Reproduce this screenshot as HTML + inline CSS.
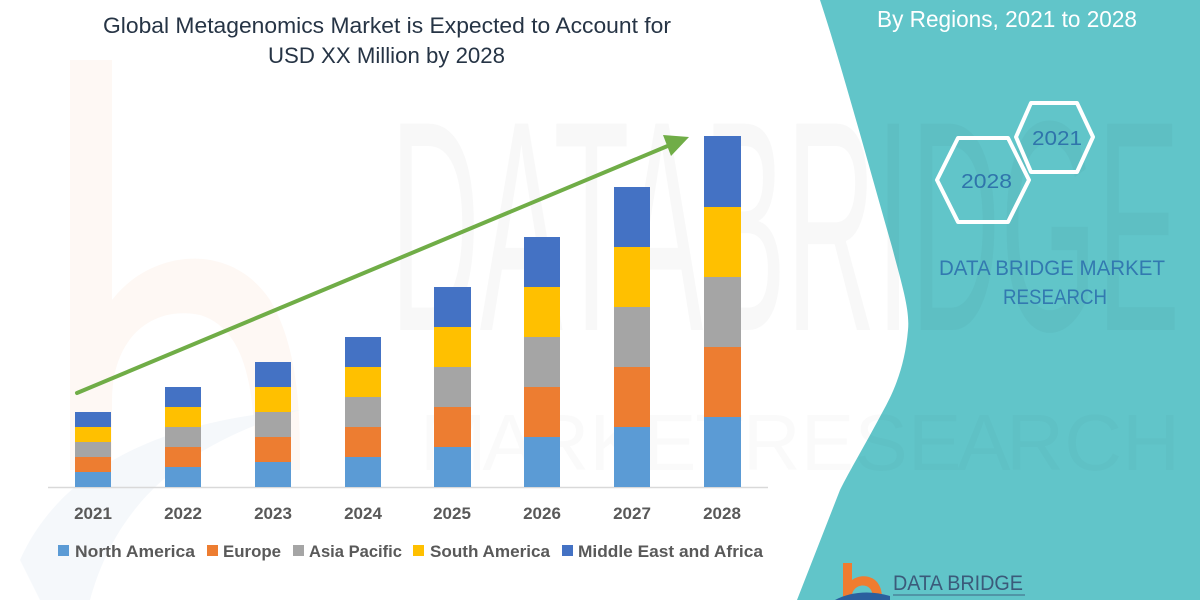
<!DOCTYPE html>
<html><head><meta charset="utf-8"><style>
html,body{margin:0;padding:0;background:#fff;}
svg{display:block;}
</style></head><body>
<svg width="1200" height="600" viewBox="0 0 1200 600" xmlns="http://www.w3.org/2000/svg" font-family="'Liberation Sans', sans-serif">
<rect width="1200" height="600" fill="#ffffff"/>
<!-- faint watermark b logo left -->
<path d="M70,60 L112,60 L112,300 C150,250 230,240 270,300 C300,350 300,420 300,470 L255,470 C255,400 250,330 200,315 C150,305 112,340 112,400 L112,470 L70,470 Z" fill="#fdf3ec" opacity="0.6"/>
<path d="M20,560 C60,470 160,420 300,410 C200,440 120,490 90,600 L40,600 Z" fill="#f1f5f9" opacity="0.7"/>
<!-- teal panel -->
<path d="M820,0 C840,60 870,170 892,247 C902,285 910,310 908,330 C905,365 895,390 882,413 C865,445 850,470 840,490 L797,600 L1200,600 L1200,0 Z" fill="#61c5c9"/>
<!-- watermark DATABRIDGE -->
<text x="390" y="330" font-size="300" textLength="790" lengthAdjust="spacingAndGlyphs" fill="#000" opacity="0.022">DATABRIDGE</text>
<text x="420" y="470" font-size="80" textLength="760" lengthAdjust="spacing" fill="#000" opacity="0.015">M A R K E T  R E S E A R C H</text>
<!-- title -->
<text x="103" y="33" font-size="22" fill="#263445" textLength="568" lengthAdjust="spacingAndGlyphs">Global Metagenomics Market is Expected to Account for</text>
<text x="268" y="63" font-size="22" fill="#263445" textLength="237" lengthAdjust="spacingAndGlyphs">USD XX Million by 2028</text>
<!-- right header -->
<text x="877" y="27" font-size="23" fill="#ffffff" textLength="260" lengthAdjust="spacingAndGlyphs">By Regions,  2021 to 2028</text>
<!-- hexagons -->
<polygon points="1016,137 1031,103 1077,103 1093,137 1077,172 1031,172" fill="none" stroke="#ffffff" stroke-width="4" stroke-linejoin="round"/>
<polygon points="937,180 958,138 1008,138 1029,180 1008,222 958,222" fill="none" stroke="#ffffff" stroke-width="4" stroke-linejoin="round"/>
<text x="1032" y="145" font-size="20" fill="#2f74ab" textLength="50" lengthAdjust="spacingAndGlyphs">2021</text>
<text x="961" y="188" font-size="20" fill="#2f74ab" textLength="51" lengthAdjust="spacingAndGlyphs">2028</text>
<text x="939" y="275" font-size="21" fill="#3279b0" textLength="226" lengthAdjust="spacingAndGlyphs">DATA BRIDGE MARKET</text>
<text x="1003" y="304" font-size="21" fill="#3279b0" textLength="104" lengthAdjust="spacingAndGlyphs">RESEARCH</text>
<!-- axis -->
<line x1="48" y1="487.5" x2="768" y2="487.5" stroke="#d9d9d9" stroke-width="1.5"/>
<!-- bars -->
<g>
<rect x="75" y="472" width="36" height="15" fill="#5b9bd5"/>
<rect x="75" y="457" width="36" height="15" fill="#ed7d31"/>
<rect x="75" y="442" width="36" height="15" fill="#a5a5a5"/>
<rect x="75" y="427" width="36" height="15" fill="#ffc000"/>
<rect x="75" y="412" width="36" height="15" fill="#4472c4"/>
<rect x="165" y="467" width="36" height="20" fill="#5b9bd5"/>
<rect x="165" y="447" width="36" height="20" fill="#ed7d31"/>
<rect x="165" y="427" width="36" height="20" fill="#a5a5a5"/>
<rect x="165" y="407" width="36" height="20" fill="#ffc000"/>
<rect x="165" y="387" width="36" height="20" fill="#4472c4"/>
<rect x="255" y="462" width="36" height="25" fill="#5b9bd5"/>
<rect x="255" y="437" width="36" height="25" fill="#ed7d31"/>
<rect x="255" y="412" width="36" height="25" fill="#a5a5a5"/>
<rect x="255" y="387" width="36" height="25" fill="#ffc000"/>
<rect x="255" y="362" width="36" height="25" fill="#4472c4"/>
<rect x="345" y="457" width="36" height="30" fill="#5b9bd5"/>
<rect x="345" y="427" width="36" height="30" fill="#ed7d31"/>
<rect x="345" y="397" width="36" height="30" fill="#a5a5a5"/>
<rect x="345" y="367" width="36" height="30" fill="#ffc000"/>
<rect x="345" y="337" width="36" height="30" fill="#4472c4"/>
<rect x="434" y="447" width="37" height="40" fill="#5b9bd5"/>
<rect x="434" y="407" width="37" height="40" fill="#ed7d31"/>
<rect x="434" y="367" width="37" height="40" fill="#a5a5a5"/>
<rect x="434" y="327" width="37" height="40" fill="#ffc000"/>
<rect x="434" y="287" width="37" height="40" fill="#4472c4"/>
<rect x="524" y="437" width="36" height="50" fill="#5b9bd5"/>
<rect x="524" y="387" width="36" height="50" fill="#ed7d31"/>
<rect x="524" y="337" width="36" height="50" fill="#a5a5a5"/>
<rect x="524" y="287" width="36" height="50" fill="#ffc000"/>
<rect x="524" y="237" width="36" height="50" fill="#4472c4"/>
<rect x="614" y="427" width="36" height="60" fill="#5b9bd5"/>
<rect x="614" y="367" width="36" height="60" fill="#ed7d31"/>
<rect x="614" y="307" width="36" height="60" fill="#a5a5a5"/>
<rect x="614" y="247" width="36" height="60" fill="#ffc000"/>
<rect x="614" y="187" width="36" height="60" fill="#4472c4"/>
<rect x="704" y="417" width="37" height="70" fill="#5b9bd5"/>
<rect x="704" y="347" width="37" height="70" fill="#ed7d31"/>
<rect x="704" y="277" width="37" height="70" fill="#a5a5a5"/>
<rect x="704" y="207" width="37" height="70" fill="#ffc000"/>
<rect x="704" y="136" width="37" height="71" fill="#4472c4"/>
</g>
<!-- arrow -->
<line x1="77" y1="393" x2="670" y2="145" stroke="#70ad47" stroke-width="4" stroke-linecap="round"/>
<polygon points="689,137 671,156 663,135" fill="#70ad47"/>
<!-- year labels -->
<g font-size="17" font-weight="bold" fill="#595959" text-anchor="middle">
<text x="93" y="519">2021</text>
<text x="183" y="519">2022</text>
<text x="273" y="519">2023</text>
<text x="363" y="519">2024</text>
<text x="452" y="519">2025</text>
<text x="542" y="519">2026</text>
<text x="632" y="519">2027</text>
<text x="722" y="519">2028</text>
</g>
<!-- legend -->
<g font-size="17" font-weight="bold" fill="#595959">
<rect x="58" y="545" width="11" height="11" fill="#5b9bd5"/>
<text x="75" y="557" textLength="120" lengthAdjust="spacingAndGlyphs">North America</text>
<rect x="207" y="545" width="11" height="11" fill="#ed7d31"/>
<text x="223" y="557" textLength="58" lengthAdjust="spacingAndGlyphs">Europe</text>
<rect x="293" y="545" width="11" height="11" fill="#a5a5a5"/>
<text x="309" y="557" textLength="93" lengthAdjust="spacingAndGlyphs">Asia Pacific</text>
<rect x="413" y="545" width="11" height="11" fill="#ffc000"/>
<text x="430" y="557" textLength="120" lengthAdjust="spacingAndGlyphs">South America</text>
<rect x="562" y="545" width="11" height="11" fill="#4472c4"/>
<text x="578" y="557" textLength="185" lengthAdjust="spacingAndGlyphs">Middle East and Africa</text>
</g>
<!-- bottom logo -->
<path d="M843,563 L852,563 L852,580 C860,574 874,575 879,585 C882,590 882,596 882,600 L873,600 C873,594 872,588 866,586 C859,584 852,589 852,596 L852,600 L843,600 Z" fill="#f07c30"/>
<path d="M835,600 C850,592 870,590 890,596 L890,600 Z" fill="#2b5f9e"/>
<text x="893" y="590" font-size="21" fill="#3b5a7a" textLength="130" lengthAdjust="spacingAndGlyphs">DATA BRIDGE</text>
<line x1="893" y1="595" x2="1025" y2="595" stroke="#3b5a7a" stroke-width="1.2" opacity="0.7"/>
</svg>
</body></html>
